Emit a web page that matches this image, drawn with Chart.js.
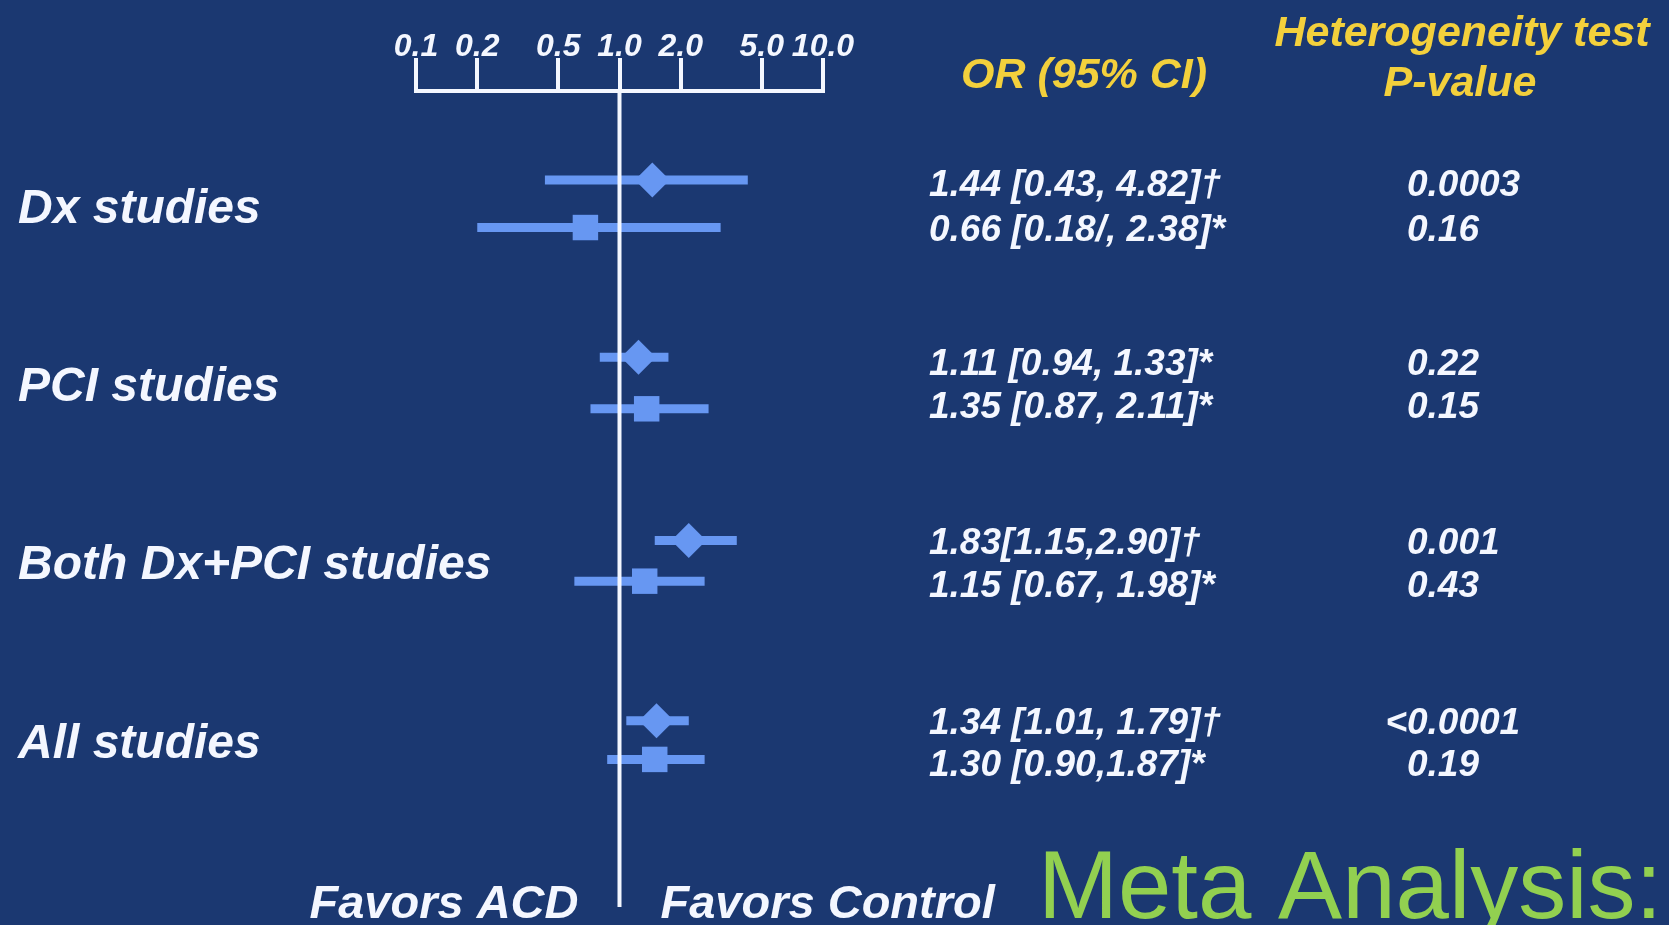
<!DOCTYPE html>
<html><head><meta charset="utf-8">
<script src="https://cdn.jsdelivr.net/npm/chart.js@4.4.1/dist/chart.umd.min.js"></script>
<style>html,body{margin:0;padding:0;background:#1b3871;overflow:hidden}canvas{display:block}</style>
</head><body>
<canvas id="c" width="1669" height="925"></canvas>
<script>
// ---- data ----
const groups = ["Dx studies", "PCI studies", "Both Dx+PCI studies", "All studies"];
const tickValues = [0.1, 0.2, 0.5, 1, 2, 5, 10];
const tickLabels = ["0.1", "0.2", "0.5", "1.0", "2.0", "5.0", "10.0"];
// first row of each group (diamond marker)
const diamondOR = [1.45, 1.24, 2.19, 1.52];
const diamondLo = [0.43, 0.80, 1.49, 1.08];
const diamondHi = [4.27, 1.74, 3.77, 2.19];
// second row of each group (square marker)
const squareOR = [0.68, 1.36, 1.33, 1.49];
const squareLo = [0.20, 0.72, 0.60, 0.87];
const squareHi = [3.14, 2.74, 2.62, 2.62];
// vertical row position of each marker (group index units)
const diamondRow = [-0.133, 0.861, 1.889, 2.900];
const squareRow = [0.133, 1.150, 2.117, 3.117];
// vertical row position of each printed line
const diamondTextRow = [-0.117, 0.889, 1.889, 2.900];
const squareTextRow = [0.133, 1.128, 2.133, 3.139];
// printed columns
const diamondText = ["1.44 [0.43, 4.82]\u2020", "1.11 [0.94, 1.33]*", "1.83[1.15,2.90]\u2020", "1.34 [1.01, 1.79]\u2020"];
const squareText = ["0.66 [0.18/, 2.38]*", "1.35 [0.87, 2.11]*", "1.15 [0.67, 1.98]*", "1.30 [0.90,1.87]*"];
const diamondP = ["0.0003", "0.22", "0.001", "<0.0001"];
const squareP = ["0.16", "0.15", "0.43", "0.19"];
const headerOR = "OR (95% CI)";
const headerP = ["Heterogeneity test", "P-value"];
const favorsLeft = "Favors ACD";
const favorsRight = "Favors Control";
const slideTitle = "Meta Analysis:";
const yMin = -0.633, yMax = 3.945;

// ---- styles ----
const BLUE = "#6797f2";
const WHITE = "#f4f7ff";
const YELLOW = "#f3d03c";
const GREEN = "#92d050";
const SANS = '"Liberation Sans", Arial, sans-serif';

const datasets = [];
datasets.push({
  type: "line", showLine: true, data: [{x: 1, y: yMin}, {x: 1, y: yMax}],
  borderColor: WHITE, borderWidth: 4, pointRadius: 0
});
datasets.push({
  data: diamondOR.map((v, i) => ({x: v, y: diamondRow[i]})),
  pointStyle: "rectRot", pointRadius: 17.5, backgroundColor: BLUE, borderWidth: 0
});
datasets.push({
  data: squareOR.map((v, i) => ({x: v, y: squareRow[i]})),
  pointStyle: "rect", pointRadius: 18, backgroundColor: BLUE, borderWidth: 0
});
diamondLo.forEach((lo, i) => datasets.push({
  type: "line", showLine: true, data: [{x: lo, y: diamondRow[i]}, {x: diamondHi[i], y: diamondRow[i]}],
  borderColor: BLUE, borderWidth: 9, pointRadius: 0, borderCapStyle: "butt"
}));
squareLo.forEach((lo, i) => datasets.push({
  type: "line", showLine: true, data: [{x: lo, y: squareRow[i]}, {x: squareHi[i], y: squareRow[i]}],
  borderColor: BLUE, borderWidth: 9, pointRadius: 0, borderCapStyle: "butt"
}));

const textPlugin = {
  id: "texts",
  afterDraw(chart) {
    const ctx = chart.ctx, xs = chart.scales.x, ys = chart.scales.y;
    const x1 = xs.getPixelForValue(1);
    ctx.save();
    ctx.textBaseline = "alphabetic";
    // group labels
    ctx.fillStyle = WHITE; ctx.textAlign = "left";
    ctx.font = "italic bold 48px " + SANS;
    groups.forEach((g, i) => ctx.fillText(g, 18, ys.getPixelForValue(i) + 19));
    // OR column and P column
    ctx.font = "italic bold 37px " + SANS;
    const rows = [];
    diamondText.forEach((t, i) => rows.push([t, diamondP[i], diamondTextRow[i]]));
    squareText.forEach((t, i) => rows.push([t, squareP[i], squareTextRow[i]]));
    rows.forEach(([t, p, r]) => {
      const y = ys.getPixelForValue(r) + 13;
      ctx.fillText(t, 929, y);
      let px = 1407;
      if (p.startsWith("<")) px -= ctx.measureText("<").width;
      ctx.fillText(p, px, y);
    });
    // headers
    ctx.fillStyle = YELLOW; ctx.textAlign = "center";
    ctx.font = "italic bold 43px " + SANS;
    ctx.fillText(headerOR, 1084, 88);
    ctx.fillText(headerP[0], 1462, 46);
    ctx.fillText(headerP[1], 1460, 96);
    // bottom labels
    ctx.fillStyle = WHITE;
    ctx.font = "italic bold 47px " + SANS;
    ctx.textAlign = "right";
    ctx.fillText(favorsLeft, x1 - 41, 918);
    ctx.textAlign = "left";
    ctx.fillText(favorsRight, x1 + 41, 918);
    ctx.fillStyle = GREEN;
    ctx.font = "96px " + SANS;
    ctx.fillText(slideTitle, 1038, 918);
    ctx.restore();
  }
};

new Chart(document.getElementById("c"), {
  type: "scatter",
  data: {datasets},
  plugins: [textPlugin],
  options: {
    responsive: false, animation: false, devicePixelRatio: 1,
    layout: {padding: {left: 416, right: 846, top: 0, bottom: 10}},
    plugins: {legend: {display: false}, tooltip: {enabled: false}},
    scales: {
      x: {
        type: "logarithmic", position: "top", min: 0.1, max: 10,
        afterBuildTicks: s => { s.ticks = tickValues.map(v => ({value: v})); },
        afterFit: s => { s.height = 91; },
        grid: {display: true, drawOnChartArea: false, drawTicks: true, tickLength: 33, color: WHITE, lineWidth: 4},
        border: {display: true, color: WHITE, width: 4},
        ticks: {
          autoSkip: false, maxRotation: 0, padding: -5, color: WHITE,
          font: {family: SANS, size: 32, style: "italic", weight: "bold", lineHeight: 1},
          callback: (v, i) => tickLabels[i]
        }
      },
      y: {type: "linear", display: false, reverse: true, min: yMin, max: yMax}
    }
  }
});
</script>
</body></html>
